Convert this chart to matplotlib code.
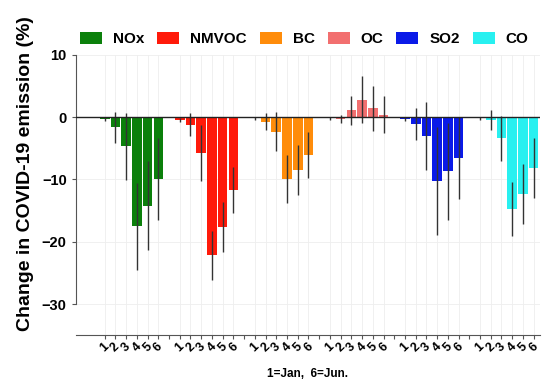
import numpy as np
import matplotlib
matplotlib.use("Agg")
import matplotlib.pyplot as plt
from matplotlib.patches import Patch

plt.rcParams['font.family'] = ['Liberation Sans', 'DejaVu Sans']
plt.rcParams['font.weight'] = 'bold'

# pollutants and monthly change (%), months 1..6
species = ['NOx', 'NMVOC', 'BC', 'OC', 'SO2', 'CO']
months = ['1', '2', '3', '4', '5', '6']
colors = ['#0b800b', '#ff1a0a', '#ff8c0a', '#f26f6f', '#0a1ae8', '#28f0f0']

nox = [-0.3, -1.6, -4.7, -17.5, -14.2, -9.9]
nox_err = [0.3, 2.5, 5.4, 7.0, 7.1, 6.6]
nmvoc = [-0.4, -1.2, -5.7, -22.2, -17.6, -11.7]
nmvoc_err = [0.3, 1.8, 4.5, 4.0, 4.0, 3.7]
bc = [-0.2, -0.7, -2.3, -9.9, -8.5, -6.1]
bc_err = [0.3, 1.4, 3.2, 3.8, 4.0, 3.7]
oc = [-0.2, -0.3, 1.1, 2.8, 1.4, 0.4]
oc_err = [0.3, 0.7, 2.3, 3.8, 3.6, 3.0]
so2 = [-0.3, -1.1, -3.0, -10.2, -8.7, -6.6]
so2_err = [0.3, 2.5, 5.4, 8.7, 7.8, 6.6]
co = [-0.2, -0.5, -3.4, -14.7, -12.3, -8.2]
co_err = [0.3, 1.6, 3.6, 4.3, 4.8, 4.8]

values = [nox, nmvoc, bc, oc, so2, co]
errors = [nox_err, nmvoc_err, bc_err, oc_err, so2_err, co_err]

fig = plt.figure(figsize=(5.45, 3.84), dpi=100)
ax = fig.add_axes([0.139, 0.127, 0.852, 0.730])

xt = []
xl = []
for g in range(len(species)):
    x = np.arange(len(months)) + g * 7
    ax.bar(x, values[g], width=0.9, color=colors[g], edgecolor='none', zorder=2)
    ax.errorbar(x, values[g], yerr=errors[g], fmt='none', ecolor='#333333',
                elinewidth=1.0, capsize=0, zorder=3)
    xt.extend(x)
    xl.extend(months)

ax.axhline(0, color='#222222', lw=1.0, zorder=4)

ax.set_xlim(-2.7, 40.6)
ax.set_ylim(-35, 10)
ax.set_yticks([10, 0, -10, -20, -30])
ax.set_xticks(xt)
ax.set_xticklabels(xl, rotation=45, fontsize=9, fontweight='bold')
ax.set_xticks([g * 7 + 6 for g in range(5)], minor=True)
ax.tick_params(axis='y', labelsize=10.5, length=3, width=0.8, color='#555555')
ax.tick_params(axis='x', which='both', length=3, width=0.8, color='#555555', pad=1)

ax.grid(True, which='major', color='#eeeeee', lw=0.6, zorder=0)
ax.set_axisbelow(True)

ax.spines['top'].set_visible(False)
ax.spines['right'].set_visible(False)
ax.spines['left'].set_bounds(-30, 10)
ax.spines['left'].set_color('#555555')
ax.spines['bottom'].set_color('#555555')

ax.set_ylabel('Change in COVID-19 emission (%)', fontsize=14, fontweight='bold')
ax.yaxis.set_label_coords(-0.09, 0.575)
ax.set_xlabel('1=Jan,  6=Jun.', fontsize=8.5, fontweight='bold', labelpad=10)

handles = [Patch(facecolor=c, edgecolor='none') for c in colors]
fig.legend(handles, species, ncol=6, loc='center left', bbox_to_anchor=(0.147, 0.898),
           frameon=False, fontsize=11, handlelength=1.45, handleheight=0.85,
           handletextpad=0.7, columnspacing=0.85, borderaxespad=0, borderpad=0)

fig.savefig('out.png', dpi=100)
